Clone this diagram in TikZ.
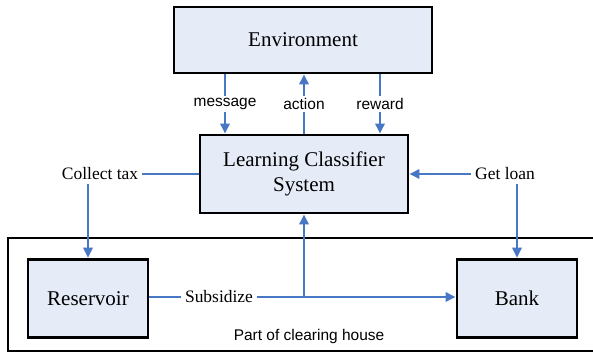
\documentclass[tikz,border=0pt]{standalone}
\usepackage{fontspec}
\setmainfont{Liberation Serif}
\setsansfont{Liberation Sans}
\usepackage{tikz}
\usetikzlibrary{arrows.meta}
\definecolor{boxfill}{RGB}{230,236,247}
\definecolor{flowblue}{RGB}{72,120,196}

\begin{document}
\begin{tikzpicture}[x=0.75pt,y=-0.75pt,
  block/.style={draw=black,line width=2.2pt,fill=boxfill,align=center,
    font=\fontsize{15.75}{19}\selectfont},
  flow/.style={flowblue,line width=1.7pt,-{Triangle[length=7.5pt,width=7pt]}},
  link/.style={flowblue,line width=1.7pt},
  tag/.style={fill=white,text=black,inner sep=2pt,
    font=\sffamily\fontsize{11.6}{13}\selectfont},
  note/.style={inner sep=3pt,font=\fontsize{13.1}{15}\selectfont}]
\useasboundingbox (0,0) rectangle (593,352);

% clearing house frame (open to the right)
\draw[line width=1.9pt] (593,238) -- (8,238) -- (8,351) -- (593,351);
\node[tag,fill=none] (house) at (309,337) {Part of clearing house};

% boxes
\node[block,minimum width=193.5pt,minimum height=49.5pt] (env) at (303,40) {Environment};
\node[block,minimum width=156pt,minimum height=58.5pt] (lcs) at (304,174) {Learning Classifier\\System};
\node[block,minimum width=90pt,minimum height=59pt] (res) at (88,298.5) {Reservoir};
\node[block,minimum width=90pt,minimum height=59pt] (bank) at (517,298.5) {Bank};

% environment <-> LCS
\draw[flow] (env.south -| 225,0) -- node[tag] {message} (lcs.north -| 225,0);
\draw[flow] (lcs.north) -- node[tag] {action} (env.south -| lcs.north);
\draw[flow] (env.south -| 380,0) -- node[tag] {reward} (lcs.north -| 380,0);

% tax and loan
\node[note] (tax) at (100,174) {Collect tax};
\node[note] (loan) at (505,174) {Get loan};
\draw[link] (lcs.west) -- (tax.east);
\draw[flow] (tax.south -| res.north) -- (res.north);
\draw[flow] (loan.west) -- (lcs.east |- loan.west);
\draw[flow] (loan.south -| bank.north) -- (bank.north);

% subsidy
\node[note] (sub) at (219,297) {Subsidize};
\coordinate (jn) at (lcs.south |- sub.east);
\draw[link] (res.east |- sub.west) -- (sub.west);
\draw[flow] (sub.east) -- (bank.west |- sub.east);
\draw[flow] (jn) -- (lcs.south);
\end{tikzpicture}
\end{document}
